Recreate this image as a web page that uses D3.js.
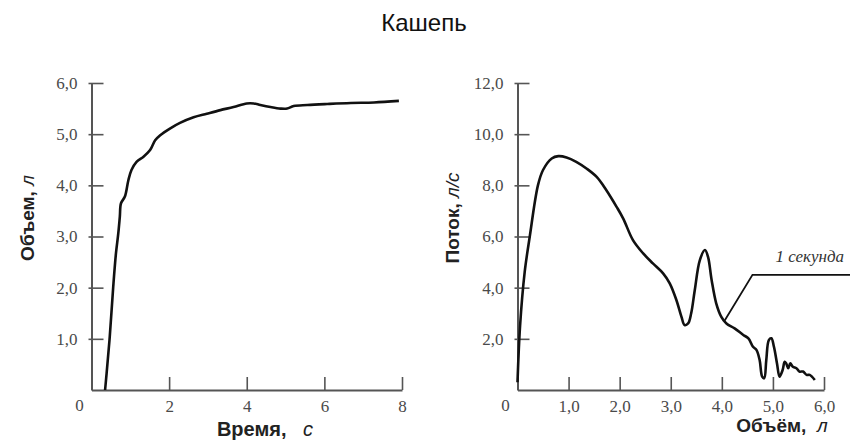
<!DOCTYPE html>
<html><head><meta charset="utf-8">
<script src="https://cdn.jsdelivr.net/npm/d3@7"></script>
<style>body{margin:0;background:#fff}svg{display:block}</style>
</head><body>
<svg id="c" width="850" height="440"></svg>
<script>
// ---- data ----
const title = "Кашепь";
// Left: volume vs time
const timeSec = [0.35,0.39,0.47,0.56,0.63,0.69,0.73,0.76,0.86,0.95,1.03,1.16,1.34,1.51,1.64,1.77,2.02,2.28,2.63,2.97,3.32,3.66,4.0,4.18,4.35,4.61,4.87,5.04,5.21,5.56,6.07,6.68,7.28,7.92];
const volumeL = [0,0.33,1.04,2.02,2.67,3.06,3.39,3.65,3.78,4.1,4.3,4.46,4.56,4.69,4.88,4.98,5.11,5.22,5.33,5.4,5.47,5.53,5.6,5.6,5.57,5.53,5.5,5.5,5.55,5.57,5.59,5.61,5.62,5.65];
const leftXTicks = [2,4,6,8];
const leftYTicks = [1,2,3,4,5,6];
// Right: flow vs volume
const flowVol = [0,0.05,0.14,0.24,0.40,0.50,0.67,0.80,0.96,1.15,1.35,1.55,1.74,1.94,2.07,2.26,2.46,2.65,2.85,2.98,3.11,3.21,3.27,3.34,3.40,3.47,3.57,3.67,3.73,3.80,3.89,3.99,4.09,4.25,4.42,4.52,4.61,4.68,4.74,4.79,4.83,4.87,4.92,4.97,5.02,5.08,5.13,5.19,5.23,5.26,5.30,5.34,5.39,5.46,5.52,5.59,5.66,5.72,5.82];
const flowLs = [0.3,2.5,4.6,6.0,8.0,8.6,9.05,9.14,9.09,8.92,8.66,8.33,7.81,7.16,6.7,5.86,5.34,4.95,4.56,4.17,3.52,2.86,2.54,2.6,3.0,3.9,5.08,5.47,5.2,4.3,3.39,2.86,2.6,2.41,2.15,2.02,1.69,1.56,1.17,0.52,0.46,1.17,1.95,2.02,1.69,1.04,0.52,0.78,1.1,1.04,0.85,1.04,0.91,0.85,0.72,0.72,0.59,0.59,0.39];
const rightXTicks = [1,2,3,4,5,6];
const rightYTicks = [2,4,6,8,10,12];
const annotText = "1 секунда";
const annotPath = [[4.05,2.7],[4.6,4.5],[6.6,4.5]];

const fmt = d => d3.format(".1f")(d).replace(".", ",");
const svg = d3.select("#c");

svg.append("text").attr("x",424).attr("y",31).attr("text-anchor","middle")
  .attr("font-family","Liberation Sans, Arial, sans-serif").attr("font-size",24)
  .attr("fill","#111").text(title);

function panel(cfg){
  const g = svg.append("g");
  const x = d3.scaleLinear().domain(cfg.xd).range(cfg.xr);
  const y = d3.scaleLinear().domain(cfg.yd).range([390,83]);
  const ya = g.append("g").attr("transform",`translate(${cfg.xr[0]},0)`)
    .call(d3.axisLeft(y).tickValues(cfg.yt).tickFormat(fmt).tickSizeInner(-12).tickSizeOuter(0).tickPadding(cfg.ypad));
  const xa = g.append("g").attr("transform",`translate(0,390)`)
    .call(d3.axisBottom(x).tickValues(cfg.xt).tickFormat(cfg.xfmt).tickSizeInner(-13).tickSizeOuter(0).tickPadding(10));
  [ya,xa].forEach(a=>{
    a.select(".domain").attr("stroke","#555").attr("stroke-width",2);
    a.selectAll(".tick line").attr("stroke","#555").attr("stroke-width",1.6);
    a.selectAll(".tick text").attr("font-family","Liberation Serif, Times New Roman, serif")
      .attr("font-size",17).attr("fill","#4a4a4a");
  });
  // left y ticks cross the axis slightly
  ya.selectAll(".tick line").attr("x1",-3);
  g.append("text").attr("x",cfg.xr[0]-12).attr("y",411).attr("text-anchor","middle")
    .attr("font-family","Liberation Serif, Times New Roman, serif").attr("font-size",17).attr("fill","#4a4a4a").text("0");
  const line = d3.line().x((d,i)=>x(cfg.xs[i])).y((d,i)=>y(cfg.ys[i])).curve(d3.curveCatmullRom.alpha(0.5));
  g.append("path").datum(cfg.ys).attr("d",line).attr("fill","none").attr("stroke","#111")
    .attr("stroke-width",2.6).attr("stroke-linejoin","round");
  // axis titles
  const yl = g.append("text").attr("transform",`translate(${cfg.ylx},218) rotate(-90)`).attr("text-anchor","middle")
    .attr("font-family","Liberation Sans, Arial, sans-serif").attr("font-size",19).attr("font-weight","bold").attr("fill","#222");
  yl.append("tspan").text(cfg.ylab[0]);
  yl.append("tspan").attr("font-style","italic").attr("font-weight","normal").text(cfg.ylab[1]);
  const xl = g.append("text").attr("x",cfg.xlx).attr("y",cfg.xly).attr("text-anchor","middle")
    .attr("font-family","Liberation Sans, Arial, sans-serif").attr("font-size",cfg.xlfs).attr("font-weight","bold").attr("fill","#222")
    .attr("xml:space","preserve");
  xl.append("tspan").text(cfg.xlab[0]);
  xl.append("tspan").attr("font-style","italic").attr("font-weight","normal").text(cfg.xlab[1]);
  return {x,y,g};
}

panel({xd:[0,8],xr:[91.5,402],yd:[0,6],xt:leftXTicks,yt:leftYTicks,xfmt:d3.format("d"),ypad:14,
  xs:timeSec,ys:volumeL,ylx:34,xlx:265,xly:436,xlfs:20,ylab:["Объем, ","л"],xlab:["Время,   ","с"]});
const R = panel({xd:[0,6],xr:[517.5,824],yd:[0,12],xt:rightXTicks,yt:rightYTicks,xfmt:fmt,ypad:14,
  xs:flowVol,ys:flowLs,ylx:459,xlx:782,xly:432,xlfs:19,ylab:["Поток, ","л/с"],xlab:["Объём,  ","л"]});

R.g.append("path").datum(annotPath)
  .attr("d",d3.line().x(d=>R.x(d[0])).y(d=>R.y(d[1])))
  .attr("fill","none").attr("stroke","#111").attr("stroke-width",1.8);
R.g.append("text").attr("x",R.x(5.05)).attr("y",R.y(5.0))
  .attr("font-family","Liberation Serif, Times New Roman, serif").attr("font-style","italic")
  .attr("font-size",17).attr("fill","#333").text(annotText);
</script>
</body></html>
